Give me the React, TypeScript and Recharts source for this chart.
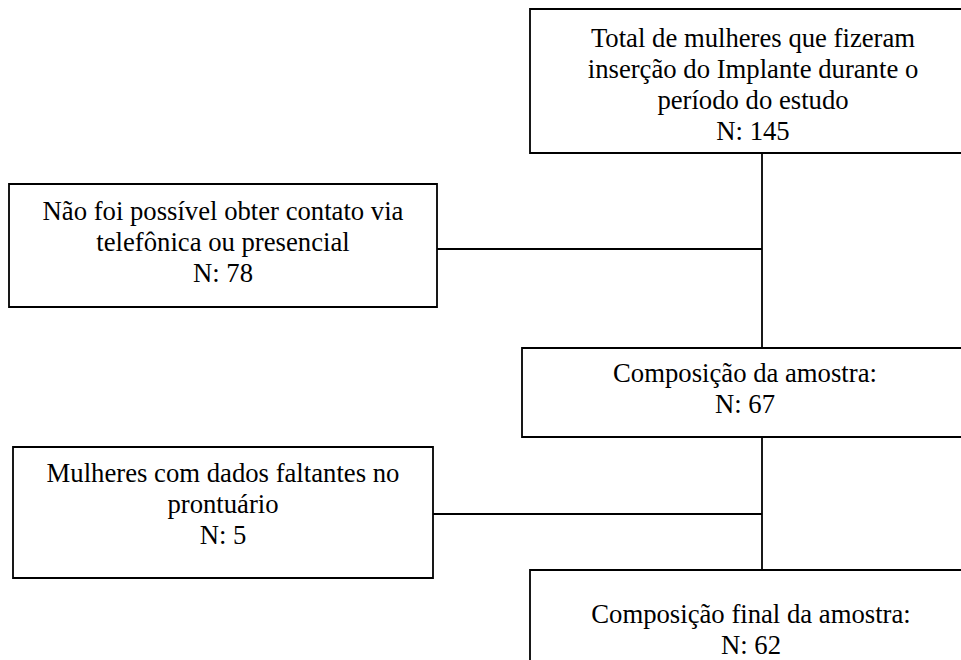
import { ComposedChart, XAxis, YAxis, ReferenceArea, ReferenceLine } from 'recharts'

// flowchart content
const nodeTitles = [
    ['Total de mulheres que fizeram', 'inserção do Implante durante o', 'período do estudo'],
    ['Não foi possível obter contato via', 'telefônica ou presencial'],
    ['Composição da amostra:'],
    ['Mulheres com dados faltantes no', 'prontuário'],
    ['Composição final da amostra:'],
]
const nodeCounts = [145, 78, 67, 5, 62]

// layout in chart units (1 unit = 1px)
const boxes = [
    { x1: 530, x2: 976, y1: 9, y2: 153, baseline: 47 },
    { x1: 9, x2: 437, y1: 184, y2: 307, baseline: 220 },
    { x1: 522, x2: 968, y1: 348, y2: 437, baseline: 382 },
    { x1: 13, x2: 433, y1: 447, y2: 578, baseline: 482 },
    { x1: 530, x2: 972, y1: 570, y2: 720, baseline: 623 },
]
const links = [
    [[762, 153], [762, 348]],
    [[437, 249], [762, 249]],
    [[762, 437], [762, 570]],
    [[433, 514], [762, 514]],
]

const W = 961
const H = 660
const FONT = "'Liberation Serif', 'Times New Roman', Times, serif"
const LINE_H = 31

function BoxText({ viewBox, index }: any) {
    if (!viewBox) return null
    const b = boxes[index]
    const cx = viewBox.x + viewBox.width / 2
    const top = viewBox.y + (b.baseline - b.y1)
    const lines = [...nodeTitles[index], `N: ${nodeCounts[index]}`]
    return (
        <text x={cx} y={top} textAnchor="middle" style={{ fontFamily: FONT, fontSize: 26.7 }} fill="#000">
            {lines.map((l, i) => (
                <tspan key={i} x={cx} y={top + i * LINE_H}>{l}</tspan>
            ))}
        </text>
    )
}

export default function App() {
    return (
        <div style={{ position: 'absolute', left: 0, top: 0, width: W, height: H, background: '#fff', fontFamily: FONT }}>
            <ComposedChart width={W} height={H} data={[]} margin={{ top: 0, right: 0, bottom: 0, left: 0 }}>
                <XAxis type="number" dataKey="x" domain={[0, W]} hide allowDataOverflow />
                <YAxis type="number" dataKey="y" domain={[0, H]} reversed hide width={0} allowDataOverflow />
                {links.map((s, i) => (
                    <ReferenceLine
                        key={'l' + i}
                        segment={[{ x: s[0][0], y: s[0][1] }, { x: s[1][0], y: s[1][1] }]}
                        stroke="#000"
                        strokeWidth={1.8}
                        ifOverflow="visible"
                    />
                ))}
                {boxes.map((b, i) => (
                    <ReferenceArea
                        key={'b' + i}
                        x1={b.x1}
                        x2={b.x2}
                        y1={b.y1}
                        y2={b.y2}
                        fill="#fff"
                        fillOpacity={1}
                        stroke="#000"
                        strokeWidth={1.8}
                        ifOverflow="visible"
                        label={{ content: (p: any) => <BoxText viewBox={p.viewBox} index={i} /> }}
                    />
                ))}
            </ComposedChart>
        </div>
    )
}
